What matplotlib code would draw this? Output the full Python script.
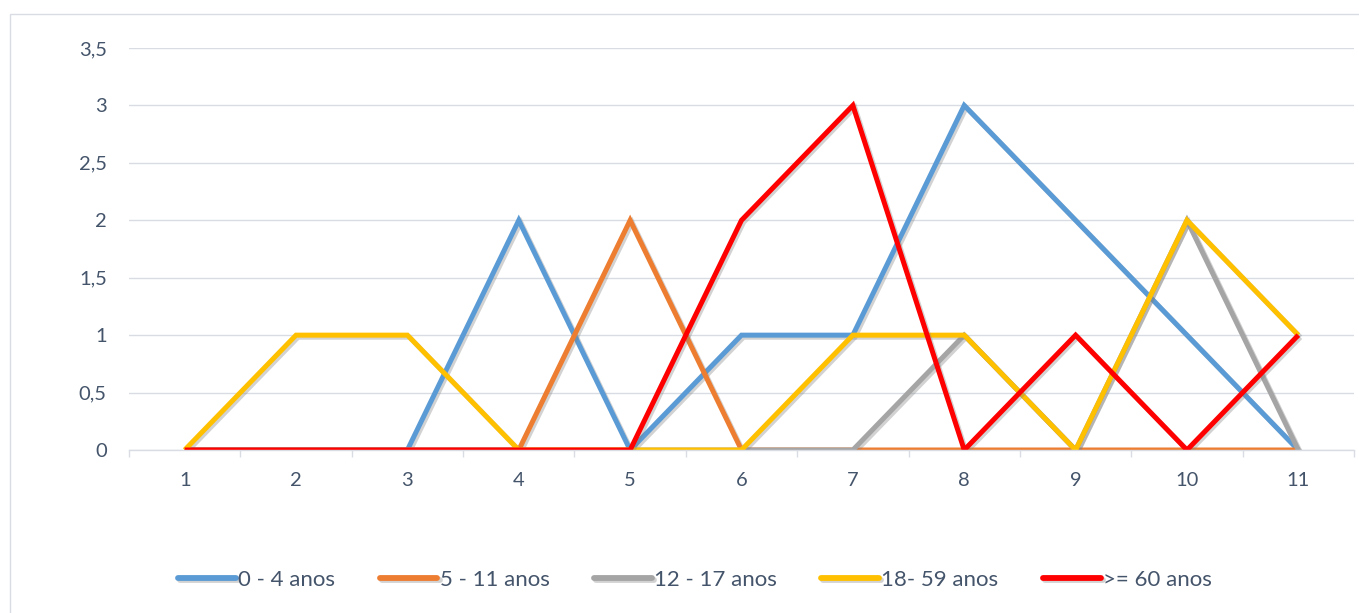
import matplotlib
matplotlib.use("Agg")
import matplotlib.pyplot as plt
import matplotlib.patheffects as pe
from matplotlib.patches import Rectangle

x = [1, 2, 3, 4, 5, 6, 7, 8, 9, 10, 11]
series_names = ["0 - 4 anos", "5 - 11 anos", "12 - 17 anos", "18- 59 anos", ">= 60 anos"]
s_0_4 = [0, 0, 0, 2, 0, 1, 1, 3, 2, 1, 0]
s_5_11 = [0, 0, 0, 0, 2, 0, 0, 0, 0, 0, 0]
s_12_17 = [0, 0, 0, 0, 0, 0, 0, 1, 0, 2, 0]
s_18_59 = [0, 1, 1, 0, 0, 0, 1, 1, 0, 2, 1]
s_60 = [0, 0, 0, 0, 0, 2, 3, 0, 1, 0, 1]
colors = ["#5B9BD5", "#ED7D31", "#A5A5A5", "#FFC000", "#FF0000"]
yticks = [0, 0.5, 1, 1.5, 2, 2.5, 3, 3.5]
ytick_labels = ["0", "0,5", "1", "1,5", "2", "2,5", "3", "3,5"]

plt.rcParams['font.family'] = ['Lato', 'DejaVu Sans']
txt_color = "#44546A"
grid_color = "#D9DDE3"

W, H = 1359, 613
fig = plt.figure(figsize=(W / 100, H / 100), dpi=100)
ax = fig.add_axes([129 / W, (H - 450) / H, (1354 - 129) / W, (450 - 48) / H])

shadow = [pe.SimpleLineShadow(offset=(1.5, -1.5), shadow_color="#808080", alpha=0.35), pe.Normal()]
for name, vals, c in zip(series_names, [s_0_4, s_5_11, s_12_17, s_18_59, s_60], colors):
    ax.plot(x, vals, color=c, lw=3.6, label=name, solid_joinstyle="miter",
            solid_capstyle="butt", path_effects=shadow)

ax.set_xlim(0.5, 11.5)
ax.set_ylim(0, 3.5)
ax.set_yticks(yticks)
ax.set_yticklabels(ytick_labels)
ax.set_xticks(x)
ax.set_xticklabels([str(v) for v in x])
ax.set_xticks([v + 0.5 for v in [0] + x], minor=True)
ax.tick_params(axis="x", which="major", length=0, pad=16, labelsize=14.5, labelcolor=txt_color)
ax.tick_params(axis="x", which="minor", length=5, color=grid_color, width=1)
ax.tick_params(axis="y", length=0, pad=16, labelsize=14.5, labelcolor=txt_color)
ax.grid(axis="y", color=grid_color, lw=1)
ax.set_axisbelow(True)
for s in ["left", "right", "top"]:
    ax.spines[s].set_visible(False)
ax.spines["bottom"].set_color(grid_color)
ax.spines["bottom"].set_linewidth(1)

leg = fig.legend(loc="center", bbox_to_anchor=(695 / W, (H - 580) / H), ncol=5, frameon=False,
                 fontsize=16, handlelength=2.6, handletextpad=0.1, columnspacing=2.0,
                 labelcolor=txt_color)
for ln in leg.get_lines():
    ln.set_linewidth(4.2)
    ln.set_solid_capstyle("round")

fig.patches.append(Rectangle((10 / W, -0.1), 1.2, (H - 14) / H + 0.1, transform=fig.transFigure,
                             fill=False, edgecolor=grid_color, lw=1))

fig.savefig("out.png", dpi=100)
